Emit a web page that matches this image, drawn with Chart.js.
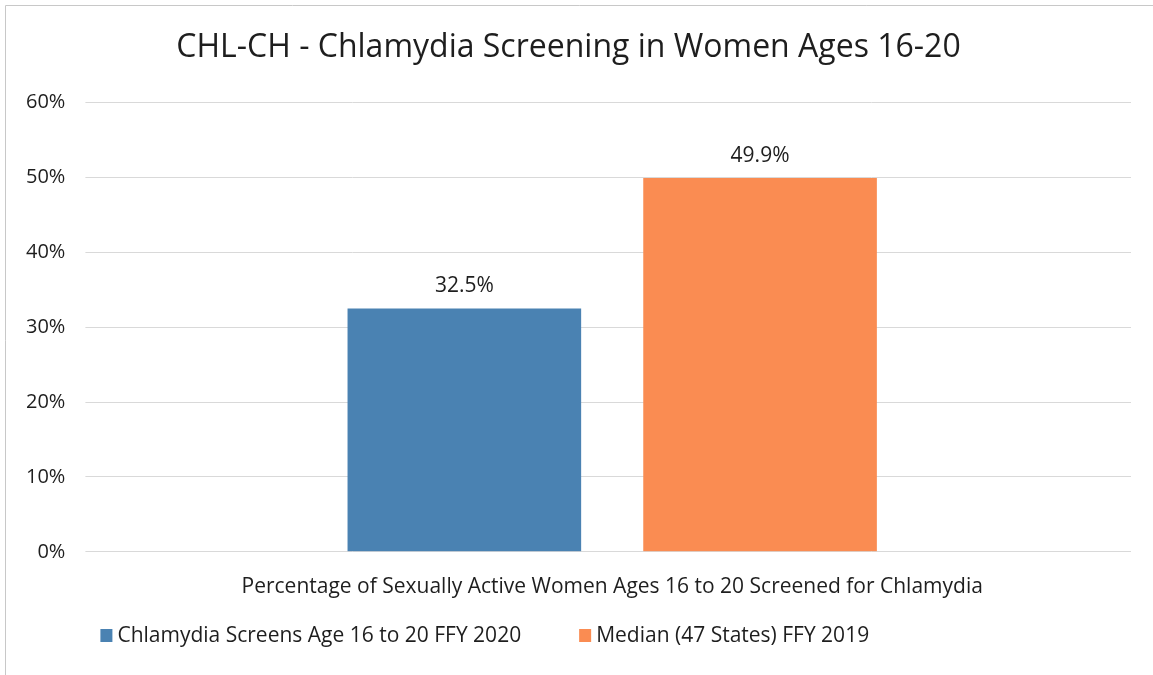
<!DOCTYPE html>
<html lang="en">
<head>
    <meta charset="UTF-8">
    <title>CHL-CH - Chlamydia Screening in Women Ages 16-20</title>
    <script src="https://cdn.jsdelivr.net/npm/chart.js"></script>
    <style>
        body {
            margin: 0;
            background: #fff;
        }
        .chart-container {
            width: 1153px;
            height: 675px;
        }
    </style>
</head>
<body>
    <div class="chart-container">
        <canvas id="myChart"></canvas>
    </div>

    <script>
        const categories = ['Percentage of Sexually Active Women Ages 16 to 20 Screened for Chlamydia'];
        const screens2020 = [32.5];
        const median2019 = [49.9];

        const font = "'Open Sans', sans-serif";
        const textColor = '#1e1e1e';

        // value labels above the bars + legend row under the axis
        const extras = {
            id: 'extras',
            afterDatasetsDraw(chart) {
                const ctx = chart.ctx;
                ctx.save();
                ctx.font = '21px ' + font;
                ctx.fillStyle = textColor;
                ctx.textAlign = 'center';
                ctx.textBaseline = 'bottom';
                chart.data.datasets.forEach((ds, i) => {
                    chart.getDatasetMeta(i).data.forEach((bar, j) => {
                        ctx.fillText(ds.data[j].toFixed(1) + '%', bar.x, bar.y - 12);
                    });
                });

                // legend
                const y = chart.height - 39;
                let x = chart.chartArea.left + 7;
                ctx.textAlign = 'left';
                ctx.textBaseline = 'middle';
                chart.data.datasets.forEach(ds => {
                    ctx.fillStyle = ds.backgroundColor;
                    ctx.fillRect(x, y - 7, 12, 13);
                    ctx.fillStyle = textColor;
                    ctx.fillText(ds.label, x + 17, y);
                    x += 17 + ctx.measureText(ds.label).width + 58;
                });

                // faint frame of the scanned page
                ctx.strokeStyle = '#c8c8c8';
                ctx.lineWidth = 1;
                ctx.beginPath();
                ctx.moveTo(5.5, chart.height);
                ctx.lineTo(5.5, 5.5);
                ctx.lineTo(chart.width, 5.5);
                ctx.stroke();
                ctx.restore();
            }
        };

        const ctx = document.getElementById('myChart').getContext('2d');
        new Chart(ctx, {
            type: 'bar',
            data: {
                labels: categories,
                datasets: [
                    {
                        label: 'Chlamydia Screens Age 16 to 20 FFY 2020',
                        data: screens2020,
                        backgroundColor: '#4a82b2'
                    },
                    {
                        label: 'Median (47 States) FFY 2019',
                        data: median2019,
                        backgroundColor: '#fa8c52'
                    }
                ]
            },
            options: {
                responsive: true,
                maintainAspectRatio: false,
                animation: false,
                categoryPercentage: 0.57,
                barPercentage: 0.79,
                layout: {
                    padding: { top: 29, left: 6, right: 22, bottom: 60 }
                },
                scales: {
                    x: {
                        grid: { display: false },
                        border: { display: false },
                        ticks: {
                            color: textColor,
                            font: { family: font, size: 21 },
                            padding: 15
                        }
                    },
                    y: {
                        min: 0,
                        max: 60,
                        border: { display: false },
                        grid: { color: '#d9d9d9' },
                        ticks: {
                            stepSize: 10,
                            color: textColor,
                            padding: 20,
                            font: { family: font, size: 20 },
                            callback: v => v + '%'
                        }
                    }
                },
                plugins: {
                    title: {
                        display: true,
                        text: 'CHL-CH - Chlamydia Screening in Women Ages 16-20',
                        color: textColor,
                        font: { family: font, size: 32, weight: 'normal' },
                        padding: { top: 0, bottom: 35 }
                    },
                    legend: { display: false },
                    tooltip: { enabled: false }
                }
            },
            plugins: [extras]
        });
    </script>
</body>
</html>
